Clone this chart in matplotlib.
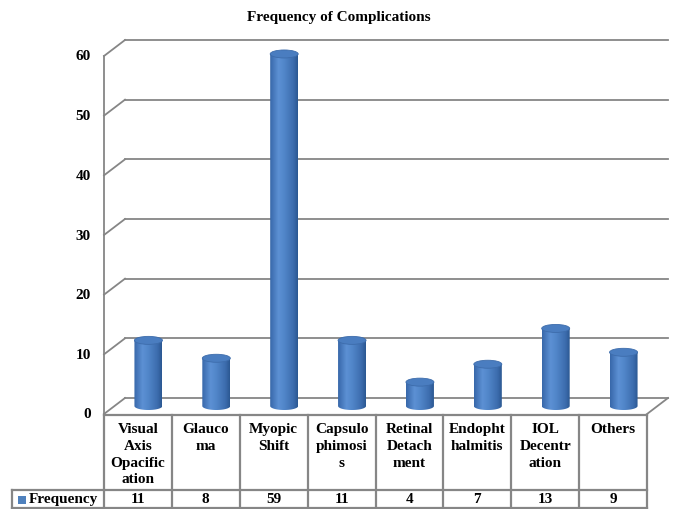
import numpy as np
import matplotlib.pyplot as plt
from matplotlib.patches import Ellipse, PathPatch, Rectangle
from matplotlib.path import Path
from matplotlib.colors import LinearSegmentedColormap
from matplotlib.transforms import blended_transform_factory, offset_copy

categories = ["Visual\nAxis\nOpacific\nation", "Glauco\nma", "Myopic\nShift",
              "Capsulo\nphimosi\ns", "Retinal\nDetach\nment", "Endopht\nhalmitis",
              "IOL\nDecentr\nation", "Others"]
frequency = [11, 8, 59, 11, 4, 7, 13, 9]
yticks = [0, 10, 20, 30, 40, 50, 60]
series_name = "Frequency"
title = "Frequency of Complications"

plt.rcParams['font.family'] = 'Liberation Serif'
plt.rcParams['font.weight'] = 'bold'

W, H = 678, 510
fig = plt.figure(figsize=(W / 100, H / 100), dpi=100)

# plot area = middle depth plane of the 3-D box; a little room below 0
# so the cylinder bases are not cut off
px_x = 543 / len(categories)
px_y = 358 / 60
ymin = -2
ax = fig.add_axes([114.5 / W, (103 + ymin * px_y) / H, 543 / W, (358 - ymin * px_y) / H])
x0, x1 = -0.5, len(categories) - 0.5
ax.set_xlim(x0, x1)
ax.set_ylim(ymin, 60)
ax.axis('off')

# half depth of the box, in data units
dx = 10.5 / px_x
dy = 8 / px_y

grid = '#868686'
line_kw = dict(color=grid, lw=1.3, clip_on=False, zorder=1)

# back wall gridlines, left wall diagonals and floor edges
for t in yticks:
    ax.plot([x0 + dx, x1 + dx], [t + dy, t + dy], **line_kw)
    ax.plot([x0 - dx, x0 + dx], [t - dy, t + dy], **line_kw)
ax.plot([x0 - dx, x0 - dx], [-dy, 60 - dy], **line_kw)
ax.plot([x1 - dx, x1 + dx], [-dy, dy], **line_kw)

tick_tr = offset_copy(ax.transData, fig=fig, x=-13, y=0, units='dots')
for t in yticks:
    ax.text(x0 - dx, t - dy, str(t), transform=tick_tr, ha='right', va='center',
            fontsize=11, fontweight='bold')

# cylinders
cyl_cmap = LinearSegmentedColormap.from_list(
    'cyl', [(0, '#3868aa'), (0.3, '#5c90d4'), (0.5, '#5287ca'),
            (0.85, '#3c6cad'), (1, '#2b5892')])
grad = np.linspace(0, 1, 64)[None, :]
r = 14 / px_x
eh = 8 / px_y
theta = np.linspace(0, -np.pi, 40)
for i, v in enumerate(frequency):
    bottom = np.column_stack([i + r * np.cos(theta), (eh / 2) * np.sin(theta)])
    verts = np.vstack([[[i - r, v], [i + r, v]], bottom, [[i - r, v]]])
    body = PathPatch(Path(verts, closed=True), facecolor='none', edgecolor='none')
    ax.add_patch(body)
    ax.imshow(grad, extent=[i - r, i + r, -eh / 2, v], cmap=cyl_cmap, aspect='auto',
              clip_path=body, zorder=3, interpolation='bilinear')
    ax.add_patch(Ellipse((i, v), 2 * r, eh, facecolor='#4a7dc0', edgecolor='#3d6cab',
                         lw=0.6, clip_on=False, zorder=4))
ax.set_xlim(x0, x1)
ax.set_ylim(ymin, 60)

# data table under the chart
tt = blended_transform_factory(ax.transData, fig.transFigure)
fy = lambda p: 1 - p / H
fx = lambda p: p / W
tab_kw = dict(color=grid, lw=1.6, clip_on=False)
y_top, y_mid, y_bot = 416, 491, 509
edges = [i - 0.5 - dx for i in range(len(categories) + 1)]
for y in (y_top, y_mid, y_bot):
    ax.plot([edges[0], edges[-1]], [fy(y)] * 2, transform=tt, **tab_kw)
for e in edges:
    ax.plot([e, e], [fy(y_top), fy(y_bot)], transform=tt, **tab_kw)
fig.add_artist(plt.Line2D([fx(12), fx(104)], [fy(y_mid)] * 2, color=grid, lw=1.6))
fig.add_artist(plt.Line2D([fx(12), fx(104)], [fy(y_bot)] * 2, color=grid, lw=1.6))
fig.add_artist(plt.Line2D([fx(12), fx(12)], [fy(y_mid), fy(y_bot)], color=grid, lw=1.6))

for i, (cat, v) in enumerate(zip(categories, frequency)):
    ax.text(i - dx, fy(423), cat, transform=tt, ha='center', va='top',
            fontsize=11, fontweight='bold', linespacing=1.38)
    ax.text(i - dx, fy(500), str(v), transform=tt, ha='center', va='center',
            fontsize=11, fontweight='bold')

fig.add_artist(Rectangle((fx(18), fy(505)), 8 / W, 8 / H, facecolor='#4f81bd',
                         edgecolor='none', transform=fig.transFigure))
fig.text(fx(29), fy(500), series_name, ha='left', va='center', fontsize=11,
         fontweight='bold')

fig.text(0.5, fy(17), title, ha='center', va='center', fontsize=11,
         fontweight='bold')

fig.savefig('out.png', dpi=100)
